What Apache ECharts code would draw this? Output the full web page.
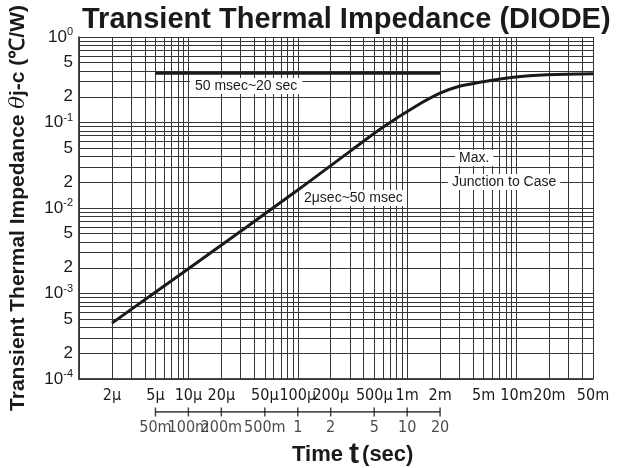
<!DOCTYPE html>
<html>
<head>
<meta charset="utf-8">
<script src="https://cdn.jsdelivr.net/npm/echarts@6.0.0/dist/echarts.min.js"></script>
<style>
html, body { margin: 0; padding: 0; background: #fff; }
#chart { width: 620px; height: 468px; }
</style>
</head>
<body>
<div id="chart"></div>
<script>
// transient curve, 2 usec ~ 50 msec (upper time scale)
var curveTime = [2e-6, 1e-5, 1e-4, 3e-4, 6e-4, 1.2e-3, 2e-3, 3e-3, 4.6e-3, 9.3e-3, 1.9e-2, 5e-2];
var curveZth = [4.5e-4, 1.95e-3, 1.62e-2, 0.046, 0.088, 0.155, 0.22, 0.265, 0.295, 0.338, 0.362, 0.372];

// 50 msec ~ 20 sec, read against the lower time scale
var plateauTime = [0.05, 20];
var plateauZth = [0.376, 0.376];

var xTickValues = [2e-6, 5e-6, 1e-5, 2e-5, 5e-5, 1e-4, 2e-4, 5e-4, 1e-3, 2e-3, 5e-3, 1e-2, 2e-2, 5e-2];
var xTickLabels = ['2μ', '5μ', '10μ', '20μ', '50μ', '100μ', '200μ', '500μ', '1m', '2m', '5m', '10m', '20m', '50m'];
var x2TickValues = [0.05, 0.1, 0.2, 0.5, 1, 2, 5, 10, 20];
var x2TickLabels = ['50m', '100m', '200m', '500m', '1', '2', '5', '10', '20'];
var yTickValues = [1, 0.5, 0.2, 0.1, 0.05, 0.02, 0.01, 5e-3, 2e-3, 1e-3, 5e-4, 2e-4, 1e-4];
var yTickLabels = ['10^0', '5', '2', '10^-1', '5', '2', '10^-2', '5', '2', '10^-3', '5', '2', '10^-4'];

var X_MIN = 1e-6, X_MAX = 5e-2, Y_MIN = 1e-4, Y_MAX = 1;

var narrow = "'DejaVu Sans Condensed', 'Liberation Sans Narrow', sans-serif";
var sans = "'Liberation Sans', Arial, sans-serif";

function logGrid(lo, hi) {
    var out = [];
    for (var e = Math.floor(Math.log10(lo)) ; e <= Math.ceil(Math.log10(hi)); e++) {
        for (var k = 1; k < 10; k++) {
            var v = k * Math.pow(10, e);
            if (v >= lo * 0.999 && v <= hi * 1.001) out.push(v);
        }
    }
    return out;
}

var gridLines = logGrid(X_MIN, X_MAX).map(function (v) { return {xAxis: v}; })
    .concat(logGrid(Y_MIN, Y_MAX).map(function (v) { return {yAxis: v}; }));

var xLabelLines = xTickValues.map(function (v, i) {
    return {xAxis: v, label: {formatter: xTickLabels[i]}};
});
var yLabelLines = yTickValues.map(function (v, i) {
    var parts = yTickLabels[i].split('^');
    var txt = parts.length > 1 ? '{n|' + parts[0] + '}{s|' + parts[1] + '}' : '{n|' + parts[0] + '}';
    return {yAxis: v, label: {formatter: txt}};
});

var curve = curveTime.map(function (t, i) { return [t, curveZth[i]]; });
var plateau = plateauTime.map(function (t, i) { return [t, plateauZth[i]]; });

var myChart = echarts.init(document.getElementById('chart'));
var option = {
    animation: false,
    backgroundColor: '#fff',
    title: {
        text: 'Transient Thermal Impedance (DIODE)',
        left: 77,
        top: 0,
        textStyle: {fontFamily: sans, fontSize: 29, fontWeight: 'bold', color: '#1a1a1a'}
    },
    grid: [
        {left: 79, top: 37, width: 514, height: 342},
        {left: 79, top: 411, width: 514, height: 1}
    ],
    xAxis: [
        {
            type: 'log', gridIndex: 0, min: X_MIN, max: X_MAX,
            axisLine: {show: true, lineStyle: {color: '#111', width: 1.5}},
            axisTick: {show: false}, axisLabel: {show: false}, splitLine: {show: false}
        },
        {
            type: 'log', gridIndex: 1, min: 1e-2, max: 500, show: false
        },
        {
            type: 'log', gridIndex: 0, min: 1e-2, max: 500, show: false
        }
    ],
    yAxis: [
        {
            type: 'log', gridIndex: 0, min: Y_MIN, max: Y_MAX,
            axisLine: {show: true, lineStyle: {color: '#111', width: 1.5}},
            axisTick: {show: false}, axisLabel: {show: false}, splitLine: {show: false},
            name: 'Transient Thermal Impedance {i|θ}j-c (℃/W)',
            nameLocation: 'middle',
            nameGap: 50,
            nameTextStyle: {
                fontFamily: sans, fontSize: 21, fontWeight: 'bold', color: '#1a1a1a',
                rich: {i: {fontFamily: 'DejaVu Serif', fontStyle: 'italic', fontWeight: 'normal', fontSize: 21, color: '#1a1a1a'}}
            }
        },
        {type: 'value', gridIndex: 1, min: 0, max: 1, show: false}
    ],
    series: [
        {
            name: 'grid', type: 'scatter', data: [], silent: true,
            markLine: {
                silent: true, symbol: ['none', 'none'], animation: false, precision: 12,
                lineStyle: {color: '#363636', width: 1, type: 'solid'},
                label: {show: false},
                emphasis: {disabled: true},
                data: gridLines
            }
        },
        {
            name: 'xlabels', type: 'scatter', data: [], silent: true,
            markLine: {
                silent: true, symbol: ['none', 'none'], animation: false, precision: 12,
                lineStyle: {color: 'rgba(0,0,0,0)', width: 1},
                label: {show: true, position: 'start', distance: 9, fontFamily: narrow, fontSize: 16, color: '#1a1a1a'},
                emphasis: {disabled: true},
                data: xLabelLines
            }
        },
        {
            name: 'ylabels', type: 'scatter', data: [], silent: true,
            markLine: {
                silent: true, symbol: ['none', 'none'], animation: false, precision: 12,
                lineStyle: {color: 'rgba(0,0,0,0)', width: 1},
                label: {
                    show: true, position: 'start', distance: 6, color: '#1a1a1a',
                    rich: {
                        n: {fontFamily: sans, fontSize: 17, color: '#1a1a1a'},
                        s: {fontFamily: sans, fontSize: 11, color: '#1a1a1a', verticalAlign: 'top', padding: [0, 0, 10, 0]}
                    }
                },
                emphasis: {disabled: true},
                data: yLabelLines
            }
        },
        {
            name: '2usec~50msec', type: 'line', xAxisIndex: 0, yAxisIndex: 0,
            smooth: 0.35, showSymbol: false, silent: true, z: 5,
            lineStyle: {color: '#1a1a1a', width: 3},
            data: curve
        },
        {
            name: '50msec~20sec', type: 'line', xAxisIndex: 2, yAxisIndex: 0,
            showSymbol: false, silent: true, z: 5,
            lineStyle: {color: '#1a1a1a', width: 3},
            data: plateau
        },
        {
            name: 'scale2', type: 'line', xAxisIndex: 1, yAxisIndex: 1,
            showSymbol: false, silent: true,
            lineStyle: {color: '#1a1a1a', width: 1.5},
            data: [[x2TickValues[0], 0], [x2TickValues[x2TickValues.length - 1], 0]]
        },
        {
            name: 'scale2ticks', type: 'scatter', xAxisIndex: 1, yAxisIndex: 1,
            silent: true, symbol: 'rect', symbolSize: [1.5, 9],
            itemStyle: {color: '#1a1a1a'},
            label: {
                show: true, position: 'bottom', distance: 3,
                fontFamily: narrow, fontSize: 16, color: '#1a1a1a',
                formatter: function (p) { return x2TickLabels[p.dataIndex]; }
            },
            data: x2TickValues.map(function (v) { return [v, 0]; })
        }
    ],
    graphic: [
        {
            type: 'text', left: 292, top: 440, z: 10,
            style: {
                text: '{a|Time }{t|t}{a|(sec)}',
                rich: {
                    a: {fontFamily: sans, fontSize: 22, fontWeight: 'bold', fill: '#1a1a1a'},
                    t: {fontFamily: sans, fontSize: 30, fontWeight: 'bold', fill: '#1a1a1a', padding: [0, 3, 0, 0]}
                }
            }
        },
        {
            type: 'text', left: 190, top: 78, z: 10,
            style: {text: '50 msec~20 sec', font: '14px ' + sans, fill: '#1a1a1a',
                backgroundColor: '#fff', padding: [1, 5, 1, 5]}
        },
        {
            type: 'text', left: 300, top: 190, z: 10,
            style: {text: '2μsec~50 msec', font: '14px ' + sans, fill: '#1a1a1a',
                backgroundColor: '#fff', padding: [1, 4, 1, 4]}
        },
        {
            type: 'text', left: 455, top: 150, z: 10,
            style: {text: 'Max.', font: '14px ' + sans, fill: '#1a1a1a',
                backgroundColor: '#fff', padding: [1, 4, 1, 4]}
        },
        {
            type: 'text', left: 448, top: 174, z: 10,
            style: {text: 'Junction to Case', font: '14px ' + sans, fill: '#1a1a1a',
                backgroundColor: '#fff', padding: [1, 4, 1, 4]}
        }
    ]
};
myChart.setOption(option, true);
</script>
</body>
</html>
